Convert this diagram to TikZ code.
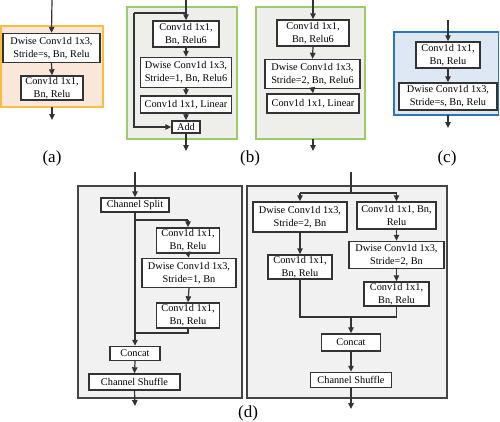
\documentclass[tikz,border=0pt]{standalone}
\usepackage{fontspec}
\setmainfont{Liberation Serif}
\usetikzlibrary{arrows.meta}
\definecolor{lc}{HTML}{333333}
\definecolor{afill}{HTML}{FBE6DA}
\definecolor{aline}{HTML}{F7BE45}
\definecolor{bfill}{HTML}{EEEEEA}
\definecolor{bline}{HTML}{9CCB6C}
\definecolor{cfill}{HTML}{DEE8F4}
\definecolor{cline}{HTML}{2E75B6}
\definecolor{dfill}{HTML}{F1F1F1}
\definecolor{dline}{HTML}{454545}
\tikzset{
  blk/.style={draw=lc, fill=white, line width=1.4pt, align=center, inner sep=0pt,
    font=\fontsize{10.3}{12.6}\selectfont},
  outer/.style={line width=1.5pt},
  arr/.style={draw=lc, line width=1.2pt, -{Triangle[length=6pt,width=5.5pt]}},
  ln/.style={draw=lc, line width=1.2pt},
  lbl/.style={font=\fontsize{17}{19}\selectfont, inner sep=0pt}
}
\newcommand{\bx}[6]{\node[blk, minimum width=#4pt, minimum height=#5pt] (#1) at (#2,#3) {#6};}
\begin{document}
\begin{tikzpicture}[x=1pt,y=-1pt]
\useasboundingbox (0,0) rectangle (500,421);
% ---------------- (a)
\draw[outer, draw=aline, fill=afill] (1,26) rectangle (103,107);
\bx{a1}{51.5}{48}{97}{29}{Dwise Conv1d 1x3,\\Stride=s, Bn, Relu}
\bx{a2}{52}{88}{62}{24}{Conv1d 1x1,\\Bn, Relu}
\coordinate (a0) at (52,0);
\coordinate (aout) at (52,107);
\coordinate (aend) at (52,120);
\draw[arr] (a0) -- (a1.north);
\draw[arr] (a1.south) -- (a2.north);
\draw[arr] (aout) -- (aend);
\node[lbl] (la) at (52,158) {(a)};
% ---------------- (b) left
\draw[outer, draw=bline, fill=bfill] (127,7) rectangle (237,139);
\bx{b1}{186}{34}{66}{26}{Conv1d 1x1,\\Bn, Relu6}
\bx{b2}{186}{72.5}{91}{30}{Dwise Conv1d 1x3,\\Stride=1, Bn, Relu6}
\bx{b3}{186}{104.5}{91}{17}{Conv1d 1x1, Linear}
\bx{badd}{186}{127}{28}{12}{Add}
\coordinate (b0) at (186,0);
\coordinate (bsplit) at (186,13);
\coordinate (bskip) at (134,13);
\coordinate (bend) at (186,151);
\draw[arr] (b0) -- (b1.north);
\draw[ln] (bsplit) -- (bskip);
\draw[arr] (bskip) |- (badd.west);
\draw[arr] (b1.south) -- (b2.north);
\draw[arr] (b2.south) -- (b3.north);
\draw[arr] (b3.south) -- (badd.north);
\draw[arr] (badd.south) -- (bend);
% ---------------- (b) right
\draw[outer, draw=bline, fill=bfill] (256,7) rectangle (365,139);
\bx{c1}{313}{33}{72}{26}{Conv1d 1x1,\\Bn, Relu6}
\bx{c2}{312.5}{74}{95}{29}{Dwise Conv1d 1x3,\\Stride=2, Bn, Relu6}
\bx{c3}{313}{103.5}{92}{19}{Conv1d 1x1, Linear}
\coordinate (c0) at (313,0);
\coordinate (cout) at (313,139);
\coordinate (cend) at (313,151);
\draw[arr] (c0) -- (c1.north);
\draw[arr] (c1.south) -- (c2.north);
\draw[arr] (c2.south) -- (c3.north);
\draw[arr] (cout) -- (cend);
\node[lbl] (lb) at (250,158) {(b)};
% ---------------- (c)
\draw[outer, draw=cline, fill=cfill] (394,32) rectangle (498.5,115);
\bx{d1}{448}{55}{64}{26}{Conv1d 1x1,\\Bn, Relu}
\bx{d2}{448}{96.5}{98}{27}{Dwise Conv1d 1x3,\\Stride=s, Bn, Relu}
\coordinate (d0) at (448,20);
\coordinate (dout) at (448,115);
\coordinate (dend) at (448,128);
\draw[arr] (d0) -- (d1.north);
\draw[arr] (d1.south) -- (d2.north);
\draw[arr] (dout) -- (dend);
\node[lbl] (lc) at (447,158) {(c)};
% ---------------- (d) left
\draw[outer, draw=dline, fill=dfill] (78,186) rectangle (242,398);
\bx{cs}{135}{205}{68}{14}{Channel Split}
\bx{e1}{188}{240.5}{63}{25}{Conv1d 1x1,\\Bn, Relu}
\bx{e2}{189}{273}{94}{29}{Dwise Conv1d 1x3,\\Stride=1, Bn}
\bx{e3}{188}{315.5}{63}{25}{Conv1d 1x1,\\Bn, Relu}
\bx{cc1}{135}{353.5}{50}{14}{Concat}
\bx{sh1}{134.5}{382}{91}{16}{Channel Shuffle}
\coordinate (e0) at (135,172);
\coordinate (ebr) at (135,220);
\coordinate (ebr2) at (188,220);
\coordinate (emg) at (188,333);
\coordinate (emg2) at (135,333);
\coordinate (eend) at (135,406);
\draw[arr] (e0) -- (cs.north);
\draw[arr] (cs.south) -- (cc1.north);
\draw[ln] (ebr) -- (ebr2);
\draw[arr] (ebr2) -- (e1.north);
\draw[arr] (e1.south) -- (e2.north);
\draw[arr] (e2.south) -- (e3.north);
\draw[ln] (e3.south) -- (emg) -- (emg2);
\draw[arr] (cc1.south) -- (sh1.north);
\draw[arr] (sh1.south) -- (eend);
% ---------------- (d) right
\draw[outer, draw=dline, fill=dfill] (247,186) rectangle (447,398);
\bx{f1}{300}{217}{94}{30}{Dwise Conv1d 1x3,\\Stride=2, Bn}
\bx{f2}{300}{267}{64}{24}{Conv1d 1x1,\\Bn, Relu}
\bx{g1}{396.5}{215.5}{79}{27}{Conv1d 1x1, Bn,\\Relu}
\bx{g2}{396.5}{255}{95}{27}{Dwise Conv1d 1x3,\\Stride=2, Bn}
\bx{g3}{396.5}{294}{65}{24}{Conv1d 1x1,\\Bn, Relu}
\bx{cc2}{351}{342.5}{59}{17}{Concat}
\bx{sh2}{351}{380}{81}{15}{Channel Shuffle}
\coordinate (h0) at (351,172);
\coordinate (hbr) at (351,193);
\coordinate (hl) at (300,193);
\coordinate (hr) at (396.5,193);
\coordinate (hml) at (300,317);
\coordinate (hmr) at (396.5,317);
\coordinate (hm) at (351,317);
\coordinate (hend) at (351,409);
\draw[ln] (h0) -- (hbr);
\draw[ln] (hl) -- (hr);
\draw[arr] (hl) -- (f1.north);
\draw[arr] (hr) -- (g1.north);
\draw[arr] (f1.south) -- (f2.north);
\draw[arr] (g1.south) -- (g2.north);
\draw[arr] (g2.south) -- (g3.north);
\draw[ln] (f2.south) -- (hml) -- (hmr) -- (g3.south);
\draw[arr] (hm) -- (cc2.north);
\draw[arr] (cc2.south) -- (sh2.north);
\draw[arr] (sh2.south) -- (hend);
\node[lbl] (ld) at (248,413) {(d)};
\end{tikzpicture}
\end{document}
